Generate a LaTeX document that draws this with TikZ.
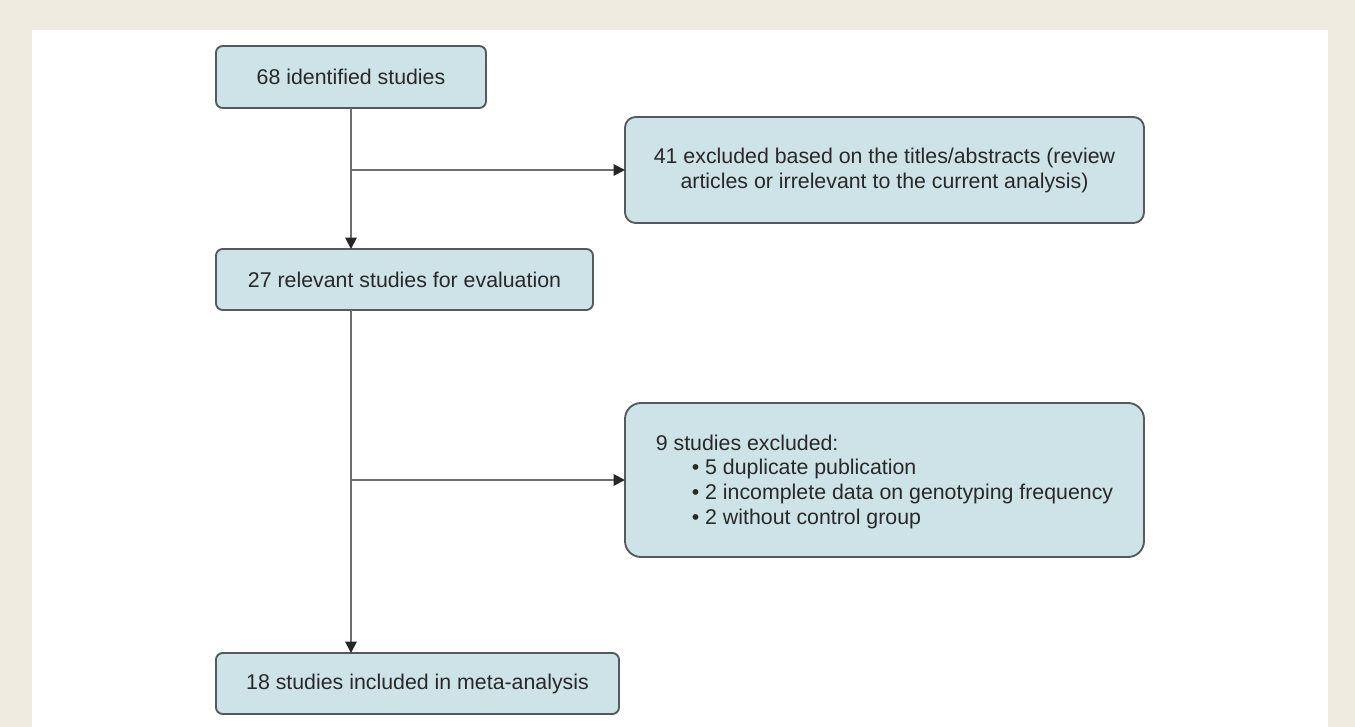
\documentclass[tikz,border=0pt]{standalone}
\usepackage{fontspec}
\setmainfont{Liberation Sans}
\usetikzlibrary{arrows.meta}
\definecolor{bgbeige}{RGB}{239,235,224}
\definecolor{boxfill}{RGB}{206,227,231}
\definecolor{boxline}{RGB}{85,90,94}
\definecolor{connline}{RGB}{110,110,110}
\definecolor{txt}{RGB}{40,40,40}
\begin{document}
\begin{tikzpicture}[x=0.75pt,y=-0.75pt,
  flowbox/.style={draw=boxline, fill=boxfill, line width=1.4pt, rounded corners=5pt,
    inner sep=0pt, outer sep=0pt, text=txt, font=\fontsize{16}{18.75}\selectfont},
  connector/.style={draw=connline, line width=1.4pt},
  arr/.style={connector, -{Triangle[length=8.5pt,width=8.5pt,color=black!85]}}
]
\fill[bgbeige] (0,0) rectangle (1355,727);
\fill[white] (32,30) rectangle (1328,727);
\useasboundingbox (0,0) rectangle (1355,727);

\node[flowbox, minimum width=202.5pt, minimum height=46.5pt] (b1) at (351,77) {68 identified studies};
\node[flowbox, minimum width=282.75pt, minimum height=45.75pt] (b2) at (404.5,279.5) {27 relevant studies for evaluation};
\node[flowbox, minimum width=302.25pt, minimum height=45.75pt] (b3) at (417.5,683.5) {18 studies included in meta-analysis};
\node[flowbox, rounded corners=8pt, minimum width=389.25pt, minimum height=79.5pt, align=center] (r1) at (884.5,170)
  {41 excluded based on the titles/abstracts (review\\articles or irrelevant to the current analysis)};
\node[flowbox, rounded corners=12pt, minimum width=389.25pt, minimum height=115.5pt,
  align=left, font=\fontsize{16}{18.5}\selectfont] (r2) at (884.5,480)
  {\rule{0pt}{14pt}9 studies excluded:\\
   \hspace*{27pt}•\ 5 duplicate publication\\
   \hspace*{27pt}•\ 2 incomplete data on genotyping frequency\\
   \hspace*{27pt}•\ 2 without control group};

\coordinate (j1) at (b1.south |- r1.west);
\coordinate (j2) at (b1.south |- r2.west);
\draw[arr] (b1.south) -- (b1.south |- b2.north);
\draw[arr] (j1) -- (r1.west);
\draw[arr] (b1.south |- b2.south) -- (b1.south |- b3.north);
\draw[arr] (j2) -- (r2.west);
\end{tikzpicture}
\end{document}
